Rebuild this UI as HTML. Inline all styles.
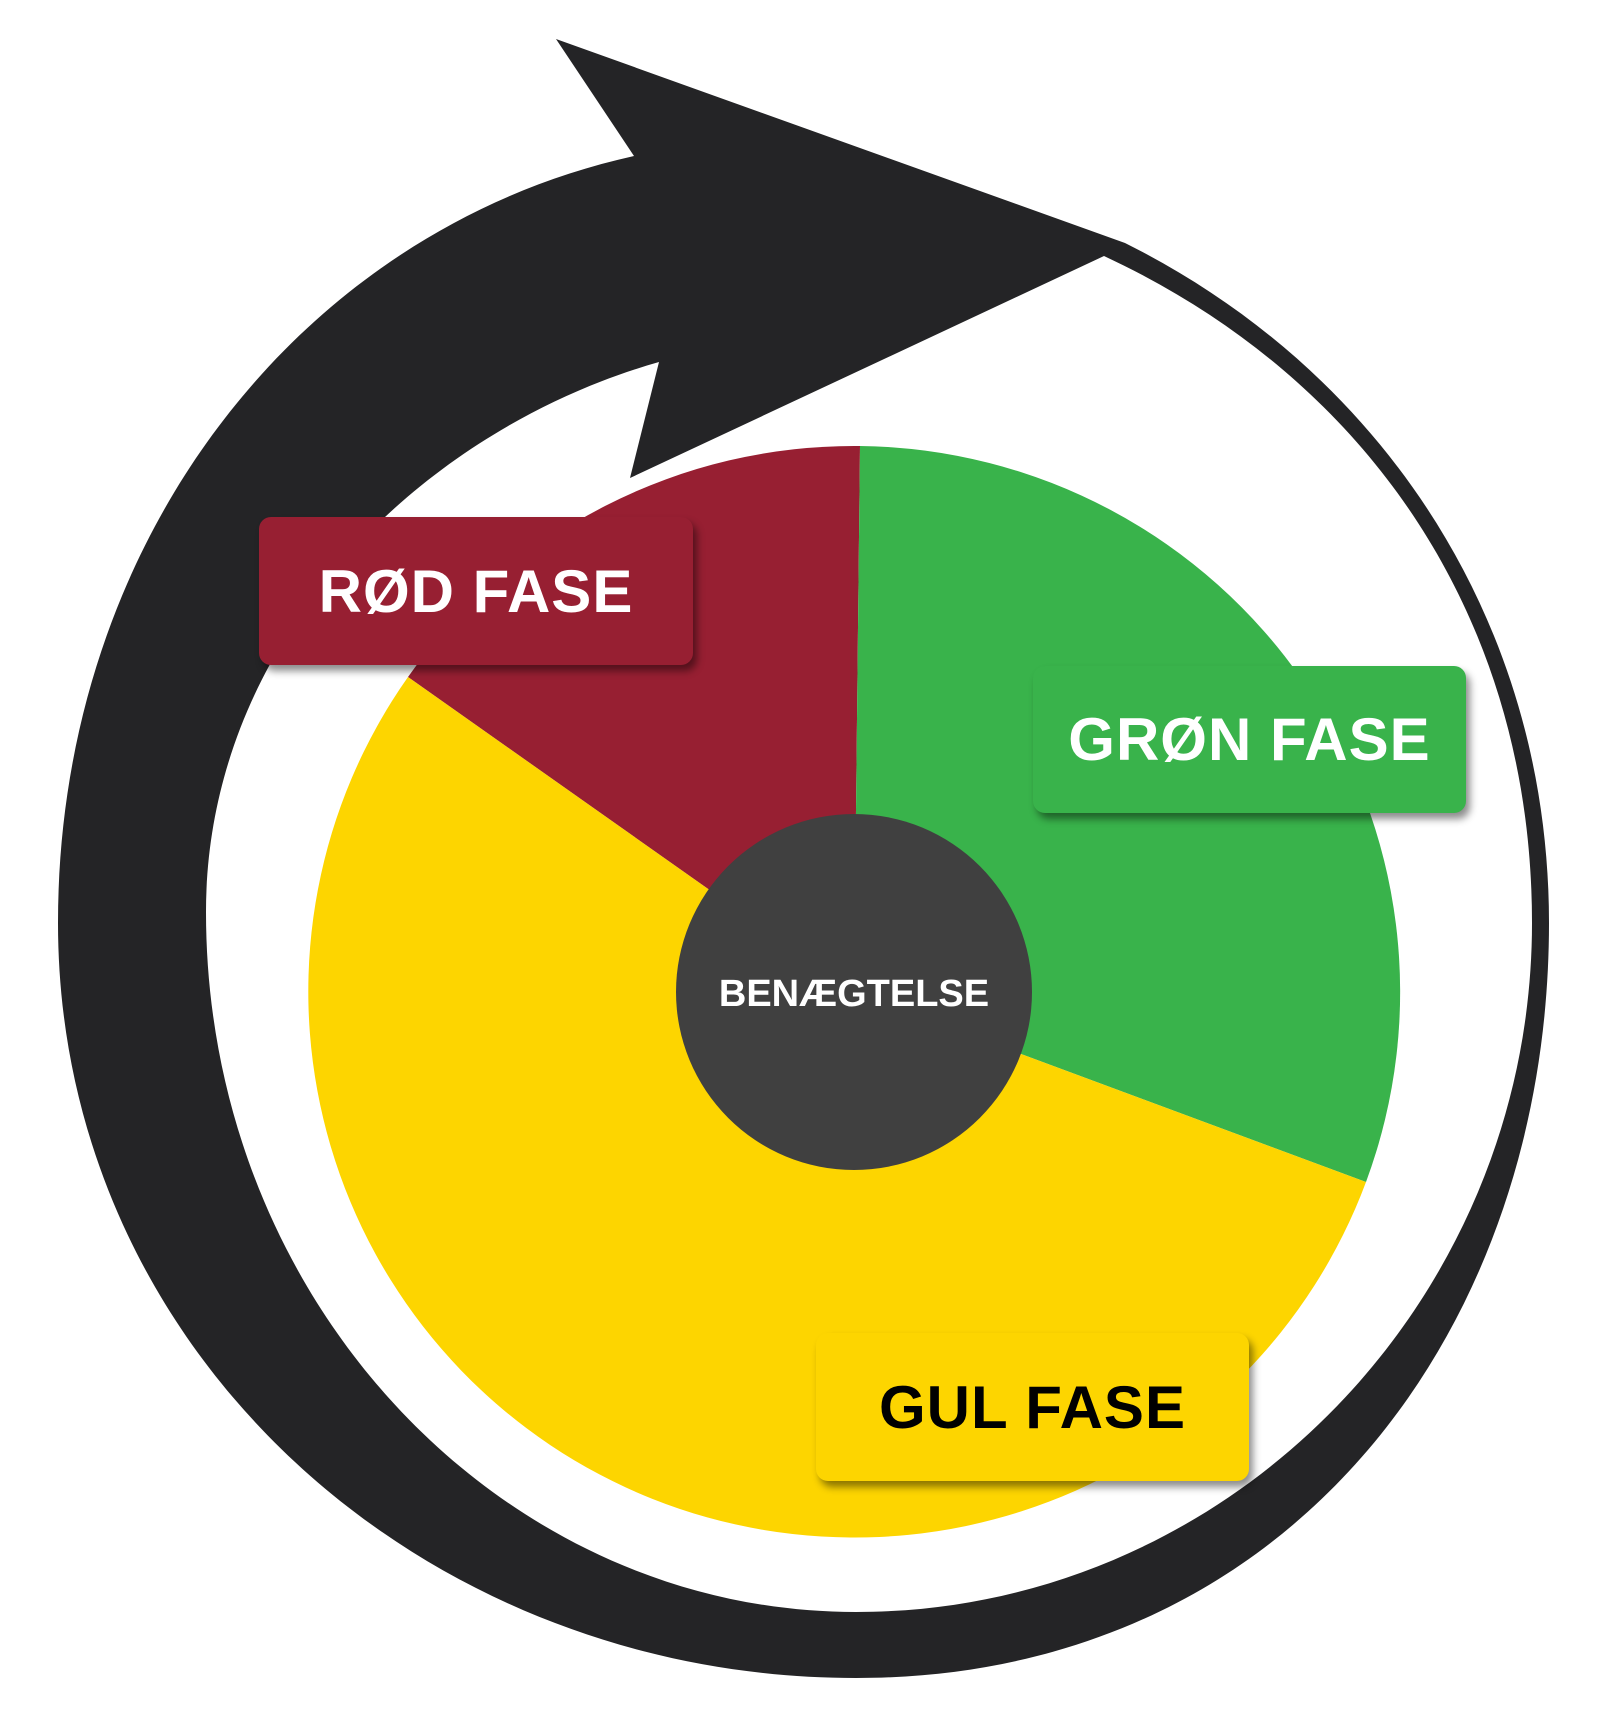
<!DOCTYPE html>
<html><head><meta charset="utf-8">
<style>
html,body{margin:0;padding:0;background:#fff;}
body{width:1607px;height:1734px;position:relative;overflow:hidden;font-family:"Liberation Sans",sans-serif;}
.box{position:absolute;border-radius:12px;box-shadow:4px 6px 8px rgba(0,0,0,0.45);display:flex;align-items:center;justify-content:center;font-weight:bold;font-size:60px;letter-spacing:1px;}
</style></head><body>
<svg width="1607" height="1734" style="position:absolute;left:0;top:0">
  <path fill="#242426" fill-rule="evenodd" d="
    M 634 156
    C 300 230 58 540 58 923
    C 58 1350 420 1678 856 1678
    C 1290 1678 1549 1330 1549 923
    C 1549 620 1380 370 1125 243
    L 556 39 Z
    M 1104 256
    L 630 478
    L 659 362
    C 420 430 206 640 206 912
    C 206 1300 500 1612 856 1612
    C 1230 1612 1532 1300 1532 923
    C 1532 620 1370 380 1104 256 Z"/>
  <path fill="#971f32" d="M854 992 L408 677 A546 546 0 0 1 860 446 Z"/>
  <path fill="#39b34b" d="M854 992 L860 446 A546 546 0 0 1 1366 1182 Z"/>
  <path fill="#fdd500" d="M854 992 L1366 1182 A546 546 0 1 1 408 677 Z"/>
  <circle cx="854" cy="992" r="178" fill="#404040"/>
  <text x="854" y="1006" text-anchor="middle" fill="#fff" font-family="Liberation Sans, sans-serif" font-weight="bold" font-size="38">BENÆGTELSE</text>
</svg>
<div class="box" style="left:259px;top:517px;width:434px;height:148px;background:#971f32;color:#fff;">RØD FASE</div>
<div class="box" style="left:1033px;top:666px;width:433px;height:147px;background:#39b34b;color:#fff;">GRØN FASE</div>
<div class="box" style="left:816px;top:1333px;width:433px;height:148px;background:#fdd500;color:#000;">GUL FASE</div>
</body></html>
